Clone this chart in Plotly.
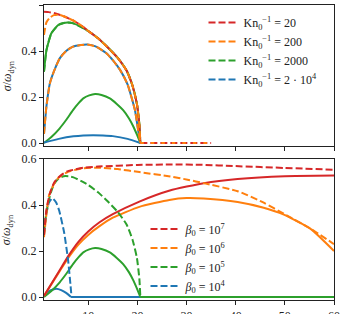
import plotly.graph_objects as go

# ---------------- data ----------------
# Top panel
top_red_x = [1, 2, 3, 4, 5, 6, 7, 8.5, 10, 12, 14, 16, 17.8, 19, 19.9, 20.4, 20.6]
top_red_y = [0.571, 0.569, 0.565, 0.559, 0.551, 0.542, 0.532, 0.512, 0.487, 0.455, 0.415, 0.37, 0.315, 0.25, 0.17, 0.08, 0.0]
top_orange_x = [1, 1.5, 2.2, 3, 4, 5, 6, 7, 8.5, 10, 12, 14, 16, 17.8, 19, 19.9, 20.4, 20.6]
top_orange_y = [0.47, 0.525, 0.545, 0.556, 0.558, 0.551, 0.542, 0.532, 0.512, 0.487, 0.455, 0.415, 0.37, 0.315, 0.25, 0.17, 0.08, 0.0]
top_zero_x = [20.6, 35]
top_zero_y = [0.0, 0.0]
top_greenA_x = [1, 1.5, 2.5, 3.9, 5, 5.8, 7, 8.5, 10, 12, 14, 16, 17.8, 19, 19.9, 20.4, 20.6]
top_greenA_y = [0.31, 0.404, 0.477, 0.513, 0.522, 0.524, 0.52, 0.505, 0.487, 0.455, 0.415, 0.37, 0.315, 0.25, 0.17, 0.08, 0.0]
top_blueA_x = [1, 1.5, 2.2, 3, 4.2, 5.5, 6.9, 8.5, 9.8, 11.5, 13.7, 15, 16.5, 18, 19.5, 20.2, 20.6]
top_blueA_y = [0.04, 0.16, 0.26, 0.31, 0.368, 0.4, 0.419, 0.426, 0.428, 0.42, 0.39, 0.36, 0.317, 0.255, 0.143, 0.05, 0.0]
greenB_x = [1, 2.5, 4.2, 5.5, 6.9, 8, 9, 10.2, 11.4, 12.7, 14.4, 15.8, 17.1, 18.3, 19.2, 20, 20.6]
greenB_y = [0.0, 0.026, 0.064, 0.1, 0.143, 0.172, 0.194, 0.207, 0.213, 0.209, 0.194, 0.17, 0.143, 0.107, 0.071, 0.032, 0.0]
top_blueB_x = [1, 4, 7, 9, 11, 13, 15, 18, 20.6]
top_blueB_y = [0.002, 0.018, 0.029, 0.033, 0.034, 0.033, 0.03, 0.018, 0.0]

# Bottom panel
bot_red_dash_x = [1, 1.5, 2.2, 3, 3.5, 4.5, 5.6, 7, 9, 12, 20, 27, 33, 40, 50, 60]
bot_red_dash_y = [0.27, 0.38, 0.45, 0.495, 0.51, 0.53, 0.545, 0.553, 0.562, 0.567, 0.574, 0.576, 0.575, 0.569, 0.561, 0.553]
bot_orange_dash_x = [1, 2, 3, 4, 6, 9, 12, 16, 20.4, 26.7, 30.2, 33.5, 40.4, 45.7, 49.8, 55.3, 60]
bot_orange_dash_y = [0.26, 0.44, 0.49, 0.52, 0.545, 0.56, 0.562, 0.556, 0.543, 0.524, 0.51, 0.495, 0.46, 0.41, 0.362, 0.296, 0.23]
bot_green_dash_x = [1, 1.5, 2.2, 3, 4, 5, 6, 7, 8.5, 10, 12, 14, 16, 17.8, 19, 19.9, 20.4, 20.6]
bot_green_dash_y = [0.28, 0.37, 0.44, 0.49, 0.515, 0.525, 0.525, 0.52, 0.505, 0.487, 0.455, 0.415, 0.37, 0.315, 0.25, 0.17, 0.08, 0.0]
bot_blue_dash_x = [1, 1.3, 2, 2.7, 3.5, 4.1, 5.1, 5.9, 6.4, 6.6]
bot_blue_dash_y = [0.27, 0.34, 0.41, 0.43, 0.41, 0.375, 0.28, 0.16, 0.05, 0.0]
bot_red_x = [1, 4, 6, 8, 10, 12.3, 15, 20.4, 26.6, 33.5, 40.4, 50, 60]
bot_red_y = [0.005, 0.11, 0.18, 0.24, 0.285, 0.325, 0.36, 0.415, 0.463, 0.495, 0.513, 0.525, 0.528]
bot_orange_x = [1, 4, 6, 8, 10, 12.3, 15, 20.4, 26.5, 30, 33.5, 40.4, 45.7, 49.8, 55.3, 60]
bot_orange_y = [0.005, 0.106, 0.172, 0.228, 0.27, 0.308, 0.345, 0.392, 0.422, 0.43, 0.428, 0.413, 0.388, 0.358, 0.295, 0.2]
bot_green_x = greenB_x
bot_green_y = greenB_y
bot_green_zero_x = [20.6, 60]
bot_green_zero_y = [0.0, 0.0]
bot_blue_x = [1, 2, 3, 3.5, 4.5, 5.5, 6.5]
bot_blue_y = [0.003, 0.025, 0.034, 0.036, 0.03, 0.018, 0.0]
bot_blue_zero_x = [6.5, 21]
bot_blue_zero_y = [0.0, 0.0]

top_labels = ["Kn<sub>0</sub><sup>−1</sup> = 20", "Kn<sub>0</sub><sup>−1</sup> = 200",
              "Kn<sub>0</sub><sup>−1</sup> = 2000", "Kn<sub>0</sub><sup>−1</sup> = 2 · 10<sup>4</sup>"]
bot_labels = ["<i>β</i><sub>0</sub> = 10<sup>7</sup>", "<i>β</i><sub>0</sub> = 10<sup>6</sup>",
              "<i>β</i><sub>0</sub> = 10<sup>5</sup>", "<i>β</i><sub>0</sub> = 10<sup>4</sup>"]
x_ticks = [10, 20, 30, 40, 50, 60]
y_ticks = [0.0, 0.2, 0.4, 0.6]

RED, ORANGE, GREEN, BLUE = "#d62728", "#ff7f0e", "#2ca02c", "#1f77b4"
LW = 2
DASH = "7px,3px"
FONT = "Liberation Serif"

fig = go.Figure()


def add(x, y, color, dash, xa, ya, name=None, legend=None, rank=None, shape="spline"):
    fig.add_trace(go.Scatter(
        x=x, y=y, mode="lines", xaxis=xa, yaxis=ya,
        line=dict(color=color, width=LW, dash=dash, shape=shape,
                  smoothing=0.5 if shape == "spline" else None),
        name=name or "", showlegend=name is not None,
        legend=legend or "legend", legendrank=rank or 1000, hoverinfo="skip"))


# top panel
add(top_greenA_x, top_greenA_y, GREEN, "solid", "x", "y")
add(top_blueA_x, top_blueA_y, BLUE, "solid", "x", "y")
add(greenB_x, greenB_y, GREEN, "solid", "x", "y")
add(top_blueB_x, top_blueB_y, BLUE, "solid", "x", "y")
add(top_greenA_x, top_greenA_y, GREEN, DASH, "x", "y", top_labels[2], "legend", 3)
add(top_red_x, top_red_y, RED, DASH, "x", "y", top_labels[0], "legend", 1)
add(top_orange_x, top_orange_y, ORANGE, DASH, "x", "y", top_labels[1], "legend", 2)
add(top_zero_x, top_zero_y, RED, DASH, "x", "y", shape="linear")
add(top_zero_x, top_zero_y, ORANGE, "3.5px,7px", "x", "y", shape="linear")
add(top_blueA_x, top_blueA_y, ORANGE, DASH, "x", "y")
add([None], [None], BLUE, DASH, "x", "y", top_labels[3], "legend", 4)

# bottom panel
add(bot_blue_x, bot_blue_y, BLUE, "solid", "x2", "y2")
add(bot_blue_zero_x, bot_blue_zero_y, BLUE, "solid", "x2", "y2", shape="linear")
add(bot_green_x, bot_green_y, GREEN, "solid", "x2", "y2")
add(bot_green_zero_x, bot_green_zero_y, GREEN, "solid", "x2", "y2", shape="linear")
add(bot_orange_x, bot_orange_y, ORANGE, "solid", "x2", "y2")
add(bot_red_x, bot_red_y, RED, "solid", "x2", "y2")
add(bot_blue_dash_x, bot_blue_dash_y, BLUE, DASH, "x2", "y2", bot_labels[3], "legend2", 4)
add(bot_green_dash_x, bot_green_dash_y, GREEN, DASH, "x2", "y2", bot_labels[2], "legend2", 3)
add(bot_orange_dash_x, bot_orange_dash_y, ORANGE, DASH, "x2", "y2", bot_labels[1], "legend2", 2)
add(bot_red_dash_x, bot_red_dash_y, RED, DASH, "x2", "y2", bot_labels[0], "legend2", 1)

axis_common = dict(showline=True, linecolor="#222", linewidth=1.2, mirror=True,
                   ticks="outside", ticklen=4, tickwidth=1, tickcolor="#222",
                   showgrid=False, zeroline=False, automargin=False,
                   tickfont=dict(family=FONT, size=12, color="#222"))

fig.update_layout(
    template="none",
    width=342, height=314,
    margin=dict(l=44, r=8, t=5, b=14, autoexpand=False),
    paper_bgcolor="white", plot_bgcolor="white",
    font=dict(family=FONT, size=12, color="#222"),
    xaxis=dict(domain=[0, 1], anchor="y", range=[1, 60], tickvals=x_ticks,
               showticklabels=False, matches="x2", **axis_common),
    yaxis=dict(domain=[0.522, 1], anchor="x", range=[-0.013, 0.6], tickvals=y_ticks,
               tickformat=".1f", **axis_common),
    xaxis2=dict(domain=[0, 1], anchor="y2", range=[1, 60], tickvals=x_ticks,
                **axis_common),
    yaxis2=dict(domain=[0, 0.478], anchor="x2", range=[-0.013, 0.6], tickvals=y_ticks,
                tickformat=".1f", **axis_common),
    legend=dict(x=0.55, y=0.99, xanchor="left", yanchor="top", bgcolor="rgba(0,0,0,0)",
                font=dict(family=FONT, size=12, color="#222"), itemwidth=30,
                tracegroupgap=0),
    legend2=dict(x=0.35, y=0.29, xanchor="left", yanchor="top", bgcolor="rgba(0,0,0,0)",
                 font=dict(family=FONT, size=12, color="#222"), itemwidth=30,
                 tracegroupgap=0),
    showlegend=True,
)

ytitle = "<i>σ</i>/<i>ω</i><sub>dyn</sub>"
for yc in [(0.522 + 1) / 2, 0.478 / 2]:
    fig.add_annotation(text=ytitle, xref="paper", yref="paper", x=-0.125, y=yc,
                       xanchor="center", yanchor="middle", textangle=-90, showarrow=False,
                       font=dict(family=FONT, size=12, color="#222"))

fig.write_html("out.html", config={"displayModeBar": False},
               post_script="document.body.style.margin='0';document.body.style.padding='0';")
